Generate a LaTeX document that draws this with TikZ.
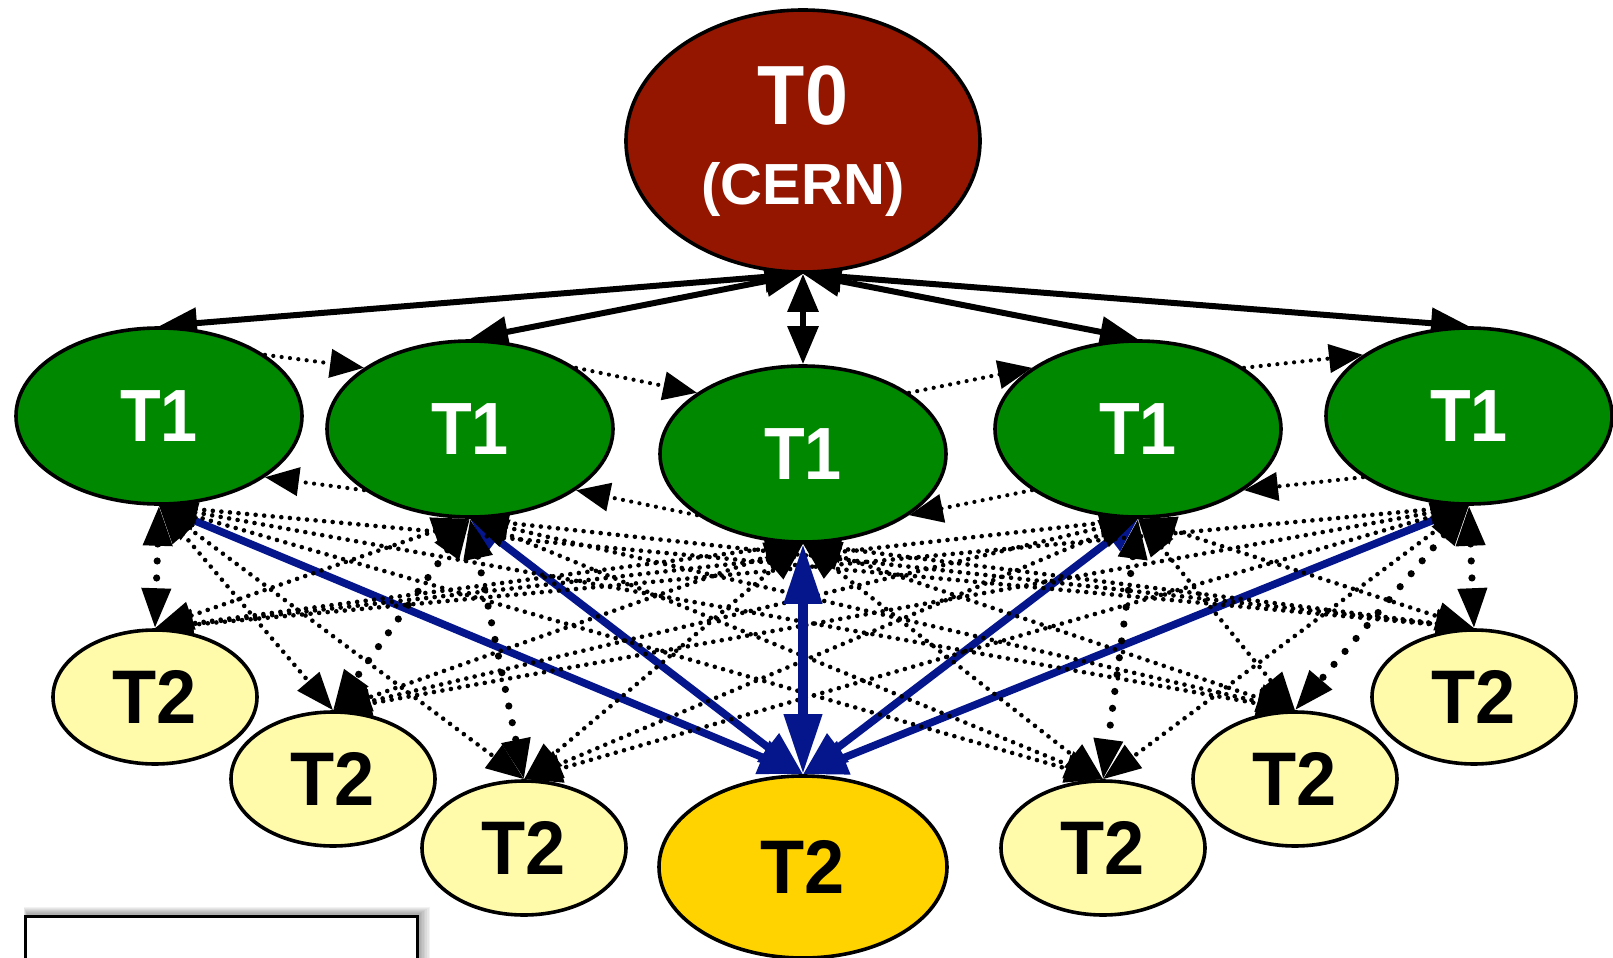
\documentclass[tikz,border=0pt]{standalone}
\usepackage{fontspec}
\setmainfont{Liberation Sans}
\usetikzlibrary{arrows.meta,shapes.geometric}
\definecolor{cernred}{RGB}{148,22,0}
\definecolor{tiergreen}{RGB}{0,136,0}
\definecolor{tiertwo}{RGB}{255,251,170}
\definecolor{tiergold}{RGB}{255,211,0}
\definecolor{linkblue}{RGB}{5,22,140}
\pgfdeclarelayer{background}
\pgfsetlayers{background,main}
\begin{document}
\begin{tikzpicture}[x=0.5pt,y=-0.5pt,
  tier/.style={ellipse, draw=black, line width=1.8pt, inner sep=0pt},
  tzero/.style={tier, fill=cernred, text=white, minimum width=177pt, minimum height=131pt,
    align=center, font=\bfseries\fontsize{29pt}{40pt}\selectfont},
  tone/.style={tier, fill=tiergreen, text=white, minimum width=143pt, minimum height=88pt,
    font=\bfseries\fontsize{37pt}{37pt}\selectfont},
  ttwo/.style={tier, fill=tiertwo, minimum width=102pt, minimum height=67pt,
    font=\bfseries\fontsize{38pt}{38pt}\selectfont},
  tgold/.style={ttwo, fill=tiergold, minimum width=144pt, minimum height=91pt},
  uplink/.style={line width=3pt, {Triangle[length=19pt,width=15pt]}-{Triangle[length=19pt,width=15pt]}},
  ring/.style={line width=2.1pt, dash pattern=on 0pt off 4.2pt, line cap=round,
    -{Triangle[length=17pt,width=14pt]}},
  mesh/.style={line width=2.3pt, dash pattern=on 0pt off 4.3pt, line cap=round,
    {Triangle[length=19pt,width=14pt]}-{Triangle[length=19pt,width=14pt]}},
  heavymesh/.style={line width=3.6pt, dash pattern=on 0pt off 8.5pt, line cap=round,
    {Triangle[length=20pt,width=14pt]}-{Triangle[length=20pt,width=14pt]}},
  bluelink/.style={draw=linkblue, line width=3.8pt,
    {Triangle[length=17pt,width=14pt]}-{Triangle[length=22pt,width=17pt]}},
  bluemain/.style={draw=linkblue, line width=5pt,
    {Triangle[length=30pt,width=18pt]}-{Triangle[length=30pt,width=18pt]}}
]
\useasboundingbox (0,0) rectangle (1613,958);

% Tier 0
\node[tzero] (T0) at (803,141) {{\fontsize{42pt}{42pt}\selectfont\scalebox{0.92}[1]{T0}}\\(CERN)};

% Tier 1 centres
\node[tone] (T1a) at (159,416) {\scalebox{0.9}[1]{T1}};
\node[tone] (T1b) at (470,429) {\scalebox{0.9}[1]{T1}};
\node[tone] (T1c) at (803,454) {\scalebox{0.9}[1]{T1}};
\node[tone] (T1d) at (1138,429) {\scalebox{0.9}[1]{T1}};
\node[tone] (T1e) at (1469,416) {\scalebox{0.9}[1]{T1}};

% Tier 2 centres
\node[ttwo] (T2a) at (155,697) {\scalebox{0.95}[1]{T2}};
\node[ttwo] (T2b) at (333,779) {\scalebox{0.95}[1]{T2}};
\node[ttwo] (T2c) at (524,848) {\scalebox{0.95}[1]{T2}};
\node[tgold] (T2hub) at (803,867) {\scalebox{0.95}[1]{T2}};
\node[ttwo] (T2e) at (1103,848) {\scalebox{0.95}[1]{T2}};
\node[ttwo] (T2f) at (1295,779) {\scalebox{0.95}[1]{T2}};
\node[ttwo] (T2g) at (1474,697) {\scalebox{0.95}[1]{T2}};

\begin{pgfonlayer}{background}
  % links to the highlighted T2
  \foreach \s in {T1a,T1b,T1d,T1e}
    \draw[bluelink] (\s.south) -- (T2hub.north);

  % full T1 -- T2 mesh
  \foreach \s/\t in {T1a/T2b,T1a/T2c,T1a/T2e,T1a/T2f,T1a/T2g,
                     T1b/T2a,T1b/T2e,T1b/T2f,T1b/T2g,
                     T1c/T2a,T1c/T2b,T1c/T2c,T1c/T2e,T1c/T2f,T1c/T2g,
                     T1d/T2a,T1d/T2b,T1d/T2c,T1d/T2f,T1d/T2g,
                     T1e/T2a,T1e/T2b,T1e/T2c,T1e/T2e}
    \draw[mesh] (\s.south) -- (\t.north);
  \foreach \s/\t in {T1a/T2a,T1b/T2b,T1b/T2c,T1d/T2e,T1e/T2f,T1e/T2g}
    \draw[heavymesh] (\s.south) -- (\t.north);

  \draw[bluemain] (T1c.south) -- (T2hub.north);

  % ring among the T1 centres
  \draw[ring] (T1a.30) -- (T1b.150);
  \draw[ring] (T1b.30) -- (T1c.150);
  \draw[ring] (T1c.30) -- (T1d.150);
  \draw[ring] (T1d.30) -- (T1e.150);
  \draw[ring] (T1b.210) -- (T1a.-30);
  \draw[ring] (T1c.210) -- (T1b.-30);
  \draw[ring] (T1d.210) -- (T1c.-30);
  \draw[ring] (T1e.210) -- (T1d.-30);

  % T0 -- T1 links
  \foreach \t in {T1a,T1b,T1c,T1d,T1e}
    \draw[uplink] (T0.south) -- (\t.north);
\end{pgfonlayer}

% box at the lower left, with a soft shadow
\foreach \i in {1,...,7}
  \fill[black, opacity=0.05] (27-\i*0.5,914-\i) rectangle (419+\i*1.6,990);
\draw[line width=1.5pt, fill=white] (25,916) rectangle (417,990);
\end{tikzpicture}
\end{document}
